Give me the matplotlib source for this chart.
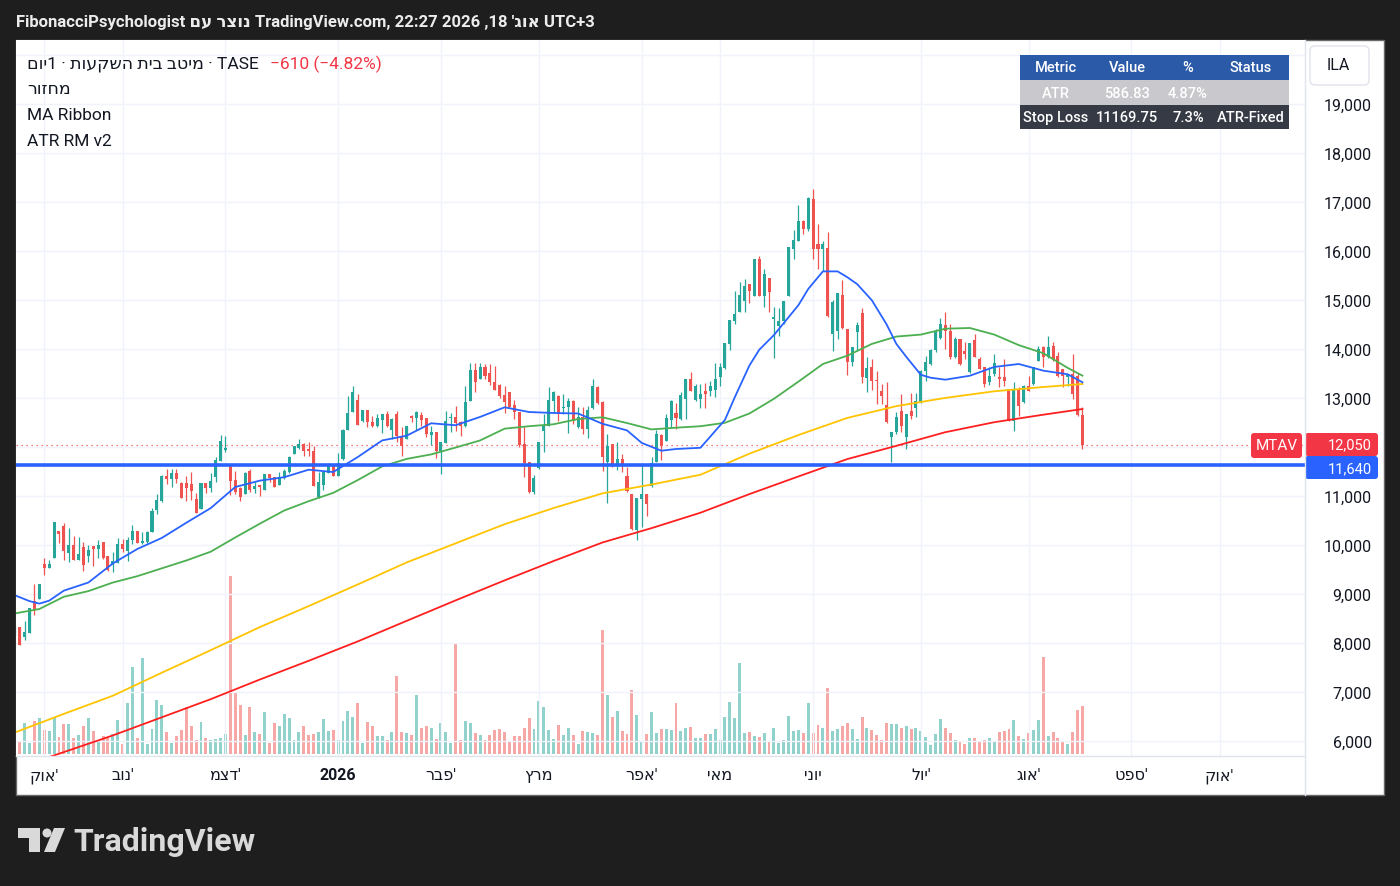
import numpy as np
import matplotlib.pyplot as plt
from matplotlib.patches import Rectangle, FancyBboxPatch, Polygon, Circle

plt.rcParams['font.family'] = ['Roboto', 'DejaVu Sans']

W, H = 1400, 887

# daily candles, bar 0 = first visible bar (end of Sep 2025), last bar = 18 Aug 2026
opens = [8190, 8326, 8135, 8210, 8856, 8904, 9618, 9537, 9741, 10285,
         10401, 9843, 10006, 9707, 9958, 9775, 9993, 9925, 10060, 9775,
         9605, 9639, 10026, 9890, 10108, 10285, 10047, 10060, 10278, 10720,
         10911, 11421, 11353, 11475, 11271, 11265, 11251, 10945, 10741, 11271,
         11169, 11400, 11720, 11952, 11639, 11333, 11169, 11050, 11516, 11149,
         11217, 11135, 11455, 11387, 11237, 11366, 11489, 11863, 11979, 12067,
         11952, 11931, 10979, 11237, 11475, 11625, 11421, 11761, 12360, 12727,
         12965, 12543, 12761, 12523, 12428, 12564, 12679, 12360, 12679, 12224,
         12169, 12632, 12598, 12659, 12591, 12251, 12305, 11931, 12087, 12598,
         12625, 12523, 12428, 12952, 13578, 13394, 13646, 13510, 13326, 13278,
         13067, 13122, 12863, 12714, 12067, 11693, 11081, 11571, 12339, 12441,
         12952, 13054, 12795, 12816, 12952, 12407, 12612, 12373, 12795, 13237,
         12918, 11693, 12067, 11625, 11761, 11407, 11047, 10319, 10945, 11047,
         11217, 11707, 12258, 12135, 12564, 12693, 12578, 12986, 13394, 12960,
         12986, 13156, 13156, 13176, 13441, 13618, 14108, 14584, 14768, 14979,
         15333, 15095, 15843, 15095, 15455, 14618, 14482, 14571, 15095, 16047,
         16217, 16625, 16455, 17067, 16149, 16047, 16067, 14312, 14380, 15108,
         14414, 13734, 14346, 14741, 13414, 13632, 13373, 13142, 12863, 12203,
         12305, 12734, 12203, 12734, 12802, 12918, 13564, 13700, 13986, 14224,
         14503, 14380, 13836, 14210, 13972, 13530, 14190, 13802, 13632, 13326,
         13496, 13441, 13428, 13190, 12543, 13190, 12918, 13258, 13292, 13768,
         14040, 13836, 14074, 13870, 13598, 13428, 13496, 13462, 12660]
highs = [8350, 8330, 8462, 8720, 9210, 9215, 9734, 9707, 10480, 10290,
         10455, 10346, 10197, 10163, 10060, 10006, 9995, 10115, 10074, 9780,
         9870, 10142, 10128, 10176, 10414, 10299, 10265, 10299, 10754, 11047,
         11435, 11557, 11557, 11557, 11285, 11421, 11489, 11067, 11271, 11271,
         11475, 11795, 12251, 12224, 11639, 11523, 11183, 11490, 11557, 11298,
         11230, 11462, 11462, 11400, 11489, 11557, 11815, 12033, 12169, 12080,
         12101, 12019, 11489, 11496, 11680, 11645, 11883, 12370, 13040, 13258,
         13088, 12768, 12768, 12645, 12679, 12686, 12747, 12604, 12747, 12407,
         12435, 12659, 12747, 12727, 12598, 12428, 12305, 12115, 12747, 12700,
         12849, 12530, 13258, 13720, 13720, 13720, 13700, 13700, 13650, 13285,
         13258, 13130, 12965, 12720, 12407, 11700, 11435, 12108, 12680, 13224,
         13156, 13060, 13088, 13000, 12960, 12816, 12816, 12850, 13394, 13250,
         12938, 12271, 12075, 12101, 11863, 11605, 11054, 10972, 11639, 11054,
         11795, 12353, 12265, 12680, 12960, 12897, 13122, 13400, 13530, 13300,
         13292, 13306, 13360, 13720, 13720, 14135, 14605, 15183, 15367, 15435,
         15340, 15850, 15911, 15639, 15462, 14856, 14843, 14986, 16088, 16441,
         16952, 16640, 17102, 17271, 16557, 16217, 16387, 15006, 15150, 15414,
         14420, 14047, 14550, 14843, 13836, 13802, 13550, 13292, 13326, 12312,
         12713, 13088, 12686, 13101, 13101, 13570, 13870, 14006, 14414, 14639,
         14754, 14516, 14244, 14217, 14142, 14128, 14312, 13836, 13640, 13632,
         13904, 13632, 13802, 13197, 13326, 13224, 13265, 13462, 13645, 14074,
         14074, 14278, 14142, 13938, 13604, 13496, 13904, 13510, 12815]
lows = [8150, 7960, 8074, 8200, 8584, 8900, 9400, 9537, 9735, 10040,
        9707, 9652, 9700, 9700, 9482, 9652, 9584, 9734, 9720, 9482,
        9462, 9639, 9870, 9687, 10026, 10040, 10026, 10047, 10265, 10639,
        10890, 11251, 11197, 11265, 10965, 10897, 10931, 10659, 10741, 11067,
        11081, 11285, 11720, 11897, 11027, 11047, 10911, 11040, 11094, 11067,
        11013, 11130, 11298, 11183, 11230, 11360, 11475, 11863, 11965, 11815,
        11829, 11210, 10965, 11135, 11468, 11407, 11414, 11750, 12350, 12720,
        12455, 12523, 12407, 12421, 12421, 12285, 12407, 12169, 12115, 11829,
        12165, 12523, 12360, 12428, 12203, 12047, 11775, 11455, 12080, 12319,
        12339, 12224, 12421, 12945, 13135, 13390, 13394, 13278, 13170, 13000,
        12693, 12795, 12578, 12013, 11387, 11075, 11047, 11565, 11897, 12430,
        12714, 12544, 12680, 12285, 12475, 12393, 12271, 12183, 12789, 12885,
        11523, 10856, 11590, 11537, 11489, 11094, 10312, 10115, 10367, 10605,
        11197, 11700, 11741, 12128, 12400, 12373, 12564, 12578, 13150, 12940,
        12802, 12802, 13054, 13020, 13258, 13598, 13992, 14516, 14760, 14768,
        14945, 15088, 15088, 14870, 14768, 13822, 14278, 14516, 15088, 15843,
        16210, 16353, 16421, 15843, 15639, 15605, 14652, 13958, 14210, 14420,
        13482, 13666, 13958, 13312, 13122, 13169, 12883, 12883, 12496, 11693,
        12271, 12305, 11965, 12577, 12611, 12900, 13360, 13686, 13952, 14210,
        14006, 13802, 13822, 13680, 13802, 13520, 13836, 13590, 13237, 13271,
        13462, 13237, 13258, 12530, 12339, 12645, 12900, 13142, 13278, 13754,
        13632, 13822, 13768, 13442, 13237, 13258, 12986, 12640, 11965]
closes = [8330, 7965, 8224, 8713, 8700, 9210, 9537, 9618, 10469, 10230,
          9890, 10006, 9707, 9822, 9605, 9904, 9925, 10006, 9741, 9503,
          9673, 10026, 9925, 10108, 10285, 10047, 10081, 10265, 10707, 10924,
          11421, 11353, 11469, 11353, 10965, 11169, 11115, 10659, 11271, 11169,
          11305, 11741, 12135, 11986, 11319, 11081, 10993, 11475, 11135, 11217,
          11197, 11455, 11373, 11197, 11400, 11523, 11808, 12019, 12067, 11931,
          11931, 11217, 11285, 11489, 11625, 11421, 11680, 12360, 12700, 13135,
          12462, 12761, 12509, 12428, 12604, 12679, 12428, 12577, 12237, 12019,
          12428, 12598, 12727, 12564, 12271, 12305, 11931, 12101, 12543, 12625,
          12496, 12428, 12931, 13578, 13326, 13646, 13462, 13326, 13176, 13054,
          12931, 12816, 12714, 12047, 11680, 11081, 11367, 12101, 12441, 12965,
          13122, 12693, 12816, 12952, 12530, 12612, 12373, 12761, 13258, 12897,
          11795, 12033, 11625, 11761, 11625, 11115, 10332, 10965, 11047, 10843,
          11680, 12271, 12033, 12598, 12952, 12591, 13067, 13394, 13156, 13250,
          13088, 13088, 13258, 13394, 13645, 14128, 14598, 14720, 15108, 15299,
          15197, 15843, 15095, 15537, 15163, 14652, 14584, 14979, 16081, 16231,
          16625, 16455, 17088, 16047, 16047, 16149, 14686, 14958, 15142, 14435,
          13734, 14040, 14502, 13428, 13618, 13360, 13346, 13054, 12509, 12305,
          12611, 12441, 12680, 12645, 12938, 13564, 13734, 13986, 14346, 14516,
          14380, 13850, 14210, 13700, 13904, 14122, 13850, 13598, 13292, 13462,
          13713, 13394, 13360, 12543, 13190, 12849, 13258, 13156, 13632, 14006,
          13836, 14054, 13802, 13462, 13462, 13475, 13088, 12660, 12050]
# volume, relative units (pane height)
volume = [12, 12, 31, 11, 33, 36, 24, 23, 37, 17,
          30, 30, 16, 19, 28, 36, 23, 13, 18, 16,
          20, 34, 10, 51, 87, 16, 96, 10, 25, 54,
          49, 22, 11, 18, 24, 47, 28, 14, 32, 16,
          14, 15, 16, 20, 178, 62, 49, 19, 47, 22,
          20, 42, 11, 31, 28, 40, 36, 14, 22, 28,
          19, 20, 22, 35, 23, 24, 14, 33, 43, 37,
          51, 11, 32, 28, 18, 18, 14, 22, 78, 22,
          21, 19, 59, 26, 28, 26, 15, 31, 22, 11,
          111, 14, 33, 31, 21, 19, 14, 19, 24, 25,
          22, 13, 18, 18, 26, 36, 25, 53, 47, 24,
          15, 29, 19, 26, 19, 10, 23, 22, 21, 19,
          124, 59, 37, 43, 23, 20, 64, 39, 13, 20,
          42, 21, 25, 25, 24, 51, 23, 26, 27, 16,
          16, 20, 20, 25, 14, 37, 52, 36, 91, 21,
          22, 18, 17, 21, 13, 26, 11, 14, 38, 23,
          24, 21, 51, 21, 29, 26, 66, 23, 25, 28,
          31, 25, 15, 37, 26, 24, 19, 14, 31, 30,
          30, 26, 28, 25, 26, 23, 17, 9, 20, 35,
          26, 21, 14, 13, 10, 16, 16, 12, 14, 16,
          12, 22, 23, 25, 34, 18, 15, 21, 24, 34,
          97, 18, 22, 16, 13, 10, 22, 44, 48]

# MA ribbon (bar index -> value)
blue_idx = [0, 3, 5, 7, 10, 15, 20, 25, 30, 35, 40, 45, 50, 55, 60, 65, 70, 75,
            80, 85, 90, 95, 100, 105, 110, 115, 120, 125, 128, 132, 135, 140,
            145, 147, 150, 152, 155, 160, 162, 165, 168, 170, 172, 175, 178, 180,
            182, 185, 187, 190, 195, 200, 205, 210, 215, 218]
ma_blue = [8980, 8860, 8810, 8870, 9075, 9240, 9630, 9925, 10150, 10460, 10760,
           11190, 11319, 11390, 11543, 11495, 11800, 12140, 12237, 12490, 12450,
           12620, 12816, 12720, 12700, 12690, 12480, 12345, 12090, 11930, 11965,
           11990, 12560, 13020, 13670, 13990, 14290, 14900, 15230, 15590, 15590,
           15470, 15330, 15000, 14510, 14110, 13850, 13480, 13420, 13380, 13460,
           13640, 13700, 13564, 13490, 13326]
green_idx = list(range(0, 216, 5)) + [218]
ma_green = [8610, 8700, 8950, 9065, 9240, 9370, 9530, 9690, 9870, 10160,
            10440, 10710, 10900, 11070, 11330, 11610, 11763, 11855, 11995, 12140,
            12380, 12430, 12470, 12577, 12612, 12495, 12365, 12400, 12430, 12500,
            12690, 12990, 13340, 13700, 13870, 14110, 14260, 14300, 14420, 14435,
            14300, 14085, 13920, 13620, 13462]
slow_idx = list(range(0, 211, 10)) + [218]
ma_yellow = [6180, 6560, 6930, 7400, 7860, 8330, 8760, 9200, 9650, 10040,
             10430, 10760, 11060, 11240, 11440, 11870, 12250, 12600, 12840, 13008,
             13143, 13230, 13292]
ma_red = [5440, 5780, 6120, 6490, 6860, 7260, 7643, 8038, 8458, 8876,
          9284, 9679, 10058, 10350, 10665, 11045, 11405, 11760, 12030, 12308,
          12512, 12665, 12781]

month_idx = [6, 22, 43, 66, 87, 107, 128, 144, 163, 185, 207, 228, 246]
month_names = ["אוק'", "נוב'", "דצמ'", "2026", "פבר'", "מרץ", "אפר'", "מאי",
               "יוני", "יול'", "אוג'", "ספט'", "אוק'"]
price_ticks = list(range(6000, 20001, 1000))
hidden_ticks = [12000, 20000]  # covered by the price tags / currency box

last_price = 12050
prev_close = 12660
level_price = 11640

table_cols = ["Metric", "Value", "%", "Status"]
table_atr = ["ATR", "586.83", "4.87%", ""]
table_stop = ["Stop Loss", "11169.75", "7.3%", "ATR-Fixed"]


def heb(s):
    # matplotlib has no bidi: flip hebrew words into visual order
    if s.endswith("'"):
        return s[:-1][::-1] + "'"
    return s[::-1]


UP, DOWN = '#26a69a', '#ef5350'
TXT = '#131722'

fig = plt.figure(figsize=(W / 100, H / 100), dpi=100, facecolor='#1e1e1e')

bg = fig.add_axes([0, 0, 1, 1], zorder=0)
bg.set_xlim(0, W)
bg.set_ylim(H, 0)
bg.axis('off')
bg.add_patch(Rectangle((16, 41), 1368, 755, facecolor='white', edgecolor='#6a6a6a', lw=1))

rect = [16 / W, 1 - 757 / H, 1289 / W, 716 / H]
axv = fig.add_axes(rect, zorder=1)
ax = fig.add_axes(rect, zorder=2, sharex=axv)
ax.patch.set_visible(False)
axv.set_facecolor('white')
for a in (ax, axv):
    for s in a.spines.values():
        s.set_visible(False)

x = np.arange(len(closes))
o = np.array(opens)
c = np.array(closes)
col = np.where(c >= o, UP, DOWN)

# volume pane
axv.bar(x, volume, width=0.6, color=col, alpha=0.5, linewidth=0)
axv.set_ylim(-2, 714)
axv.set_yticks([])
axv.tick_params(axis='x', length=0, labelbottom=False)

# candles
ax.vlines(x, lows, highs, colors=col, lw=0.9, zorder=3)
ax.bar(x, np.maximum(np.abs(c - o), 25), bottom=np.minimum(o, c), width=0.62,
       color=col, linewidth=0, zorder=3.1)

# MA ribbon
ax.plot(slow_idx, ma_red, color='#ff1f1f', lw=1.3, zorder=4)
ax.plot(slow_idx, ma_yellow, color='#ffc400', lw=1.3, zorder=4)
ax.plot(green_idx, ma_green, color='#4caf50', lw=1.3, zorder=4)
ax.plot(blue_idx, ma_blue, color='#2962ff', lw=1.3, zorder=4)

ax.axhline(last_price, color=DOWN, lw=0.9, ls=(0, (1, 3)), zorder=2)
ax.axhline(level_price, color='#2962ff', lw=2.6, zorder=5)

ax.set_xlim(0.225, 263.45)
ax.set_ylim(5700, 20312)
ax.set_xticks(month_idx)
ax.set_xticklabels([m if m.isdigit() else heb(m) for m in month_names])
ax.get_xticklabels()[3].set_fontweight('bold')
ax.tick_params(axis='x', length=0, pad=8, labelsize=11.5, labelcolor=TXT)
ax.yaxis.tick_right()
ax.set_yticks(price_ticks)
ax.set_yticklabels(["" if p in hidden_ticks else f"{p:,}" for p in price_ticks])
for lbl in ax.get_yticklabels():
    lbl.set_ha('right')
ax.tick_params(axis='y', length=0, pad=48, labelsize=11.5, labelcolor=TXT)
ax.grid(True, color='#f0f3fa', lw=1)
ax.set_axisbelow(True)

# overlay in pixel coordinates
ov = fig.add_axes([0, 0, 1, 1], zorder=10)
ov.set_xlim(0, W)
ov.set_ylim(H, 0)
ov.axis('off')
ov.plot([1305, 1305], [41, 796], color='#e0e3eb', lw=1)
ov.plot([16, 1305], [757, 757], color='#e0e3eb', lw=1)

ov.text(16, 22, "FibonacciPsychologist " + heb("נוצר עם") +
        " TradingView.com, 22:27 2026 ,18 " + "'" + "אוג"[::-1] + " UTC+3",
        color='#ececec', fontsize=12, fontweight='bold', va='center')

title = heb("יום") + "1 · " + heb("מיטב בית השקעות") + " · TASE"
t1 = ov.text(27, 64, title, color=TXT, fontsize=12.5, va='center')
chg = last_price - prev_close
ov.annotate(f"\u2212{abs(chg)} (\u2212{abs(chg) / prev_close * 100:.2f}%)", xy=(1, 0.5),
            xycoords=t1, xytext=(8, 0), textcoords='offset points',
            va='center', ha='left', color='#f23645', fontsize=12.5)
ov.text(27, 90, heb("מחזור"), color=TXT, fontsize=12.5, va='center')
ov.text(27, 116, "MA Ribbon", color=TXT, fontsize=12.5, va='center')
ov.text(27, 142, "ATR RM v2", color=TXT, fontsize=12.5, va='center')

# table
col_x = [1056, 1127, 1188, 1251]
rows = [(table_cols, 56, 25, '#2b5aa8'), (table_atr, 81, 25, '#c9c9cd'),
        (table_stop, 106, 24, '#363a45')]
for cells, y0, hh, fc in rows:
    ov.add_patch(Rectangle((1020, y0), 269, hh, facecolor=fc, edgecolor='none'))
    for cx, t in zip(col_x, cells):
        ov.text(cx, y0 + hh / 2, t, color='white', fontsize=10.5, ha='center', va='center',
                fontweight='medium')

# currency box
ov.add_patch(FancyBboxPatch((1310, 47), 59, 39, boxstyle='round,pad=0,rounding_size=5',
                            facecolor='white', edgecolor='#e0e3eb', lw=1))
ov.text(1338, 66, "ILA", color=TXT, fontsize=11.5, ha='center', va='center')

# price labels on the scale
ov.add_patch(FancyBboxPatch((1251, 434), 51, 25, boxstyle='round,pad=0,rounding_size=3',
                            facecolor='#f23645', edgecolor='none'))
ov.text(1276.5, 446.5, "MTAV", color='white', fontsize=11, ha='center', va='center')
ov.add_patch(FancyBboxPatch((1305, 457), 73, 23, boxstyle='round,pad=0,rounding_size=3',
                            facecolor='#2962ff', edgecolor='none'))
ov.text(1372, 469, f"{level_price:,}", color='white', fontsize=10.5, ha='right', va='center')
ov.add_patch(FancyBboxPatch((1305, 434), 73, 23, boxstyle='round,pad=0,rounding_size=3',
                            facecolor='#f23645', edgecolor='none'))
ov.text(1372, 445, f"{last_price:,}", color='white', fontsize=10.5, ha='right', va='center')

# logo
logo = '#d9d9d9'
ov.add_patch(Polygon([(18, 829), (40, 829), (40, 853), (29, 853), (29, 839), (18, 839)],
                     closed=True, facecolor=logo, edgecolor='none'))
ov.add_patch(Circle((47, 834), 4.5, facecolor=logo, edgecolor='none'))
ov.add_patch(Polygon([(54, 829), (65, 829), (55, 853), (44, 853)],
                     closed=True, facecolor=logo, edgecolor='none'))
ov.text(73, 842, "TradingView", color=logo, fontsize=23, fontweight='bold', va='center')

fig.savefig('out.png', dpi=100, facecolor=fig.get_facecolor())
